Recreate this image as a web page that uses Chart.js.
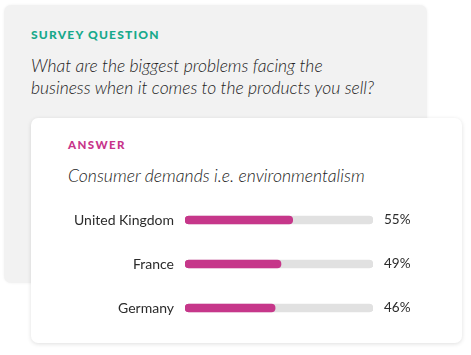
<!DOCTYPE html>
<html>
<head>
<meta charset="utf-8">
<script src="https://cdn.jsdelivr.net/npm/chart.js@4"></script>
<style>
  html, body { margin:0; padding:0; background:#ffffff; }
  body { width:471px; height:355px; position:relative; overflow:hidden; font-family: Lato, "Open Sans", sans-serif; }
  .qcard { position:absolute; left:4px; top:5px; width:423px; height:278px; background:#f2f2f2; border-radius:7px;
           box-shadow: 0 0 3px rgba(0,0,0,0.06); }
  .acard { position:absolute; left:31px; top:118px; width:431px; height:225px; background:#ffffff; border-radius:7px;
           box-shadow: 0 1px 4px rgba(0,0,0,0.13); }
  .kicker { position:absolute; font-weight:900; white-space:nowrap; }
  .qk { left:31px; top:27px; font-size:12px; line-height:16px; color:#17a98b; letter-spacing:1.2px; }
  .ak { left:68px; top:137px; font-size:11.5px; line-height:16px; color:#c8358a; letter-spacing:1.4px; }
  .qtext { position:absolute; left:31px; top:55px; font-size:17.5px; line-height:22px; font-style:italic; font-weight:300; color:#222; white-space:nowrap; }
  .atext { position:absolute; left:68px; top:165px; font-size:17.6px; line-height:22px; font-style:italic; font-weight:300; color:#222; white-space:nowrap; }
  #wrap { position:absolute; left:31px; top:190px; width:431px; height:150px; }
</style>
</head>
<body>
<div class="qcard"></div>
<div class="kicker qk">SURVEY QUESTION</div>
<div class="qtext">What are the biggest problems facing the<br>business when it comes to the products you sell?</div>
<div class="acard"></div>
<div class="kicker ak">ANSWER</div>
<div class="atext">Consumer demands i.e. environmentalism</div>
<div id="wrap"><canvas id="c" width="431" height="150"></canvas></div>
<script>
const categories = ['United Kingdom', 'France', 'Germany'];
const values = [55, 49, 46];
const valueLabels = ['55%', '49%', '46%'];
const trackMax = 96;
const trackValues = [trackMax, trackMax, trackMax];

function fixWidth(w) {
  return (s) => { s.width = w; s.paddingTop = 0; s.paddingBottom = 0; };
}

new Chart(document.getElementById('c'), {
  type: 'bar',
  data: {
    labels: categories,
    datasets: [
      { data: values, backgroundColor: '#c6378a', borderRadius: 4, borderSkipped: false, barThickness: 8, grouped: false, order: 1 },
      { data: trackValues, backgroundColor: '#e1e1e1', borderRadius: 4, borderSkipped: false, barThickness: 8, grouped: false, order: 2 }
    ]
  },
  options: {
    indexAxis: 'y',
    responsive: false,
    animation: false,
    events: [],
    layout: { padding: { top: 8, bottom: 10, left: 0, right: 0 } },
    plugins: { legend: { display: false }, tooltip: { enabled: false } },
    scales: {
      x: { display: false, min: 0, max: trackMax },
      y: {
        position: 'left',
        grid: { display: false, drawTicks: false },
        border: { display: false },
        ticks: { color: '#2b2b2b', padding: 11, font: { family: 'Lato', size: 14 } },
        afterFit: fixWidth(154)
      },
      y2: {
        type: 'category',
        position: 'right',
        labels: valueLabels,
        offset: true,
        grid: { display: false, drawTicks: false },
        border: { display: false },
        ticks: { color: '#2b2b2b', padding: 11, font: { family: 'Lato', size: 13.5 } },
        afterFit: fixWidth(89)
      }
    }
  }
});
</script>
</body>
</html>
